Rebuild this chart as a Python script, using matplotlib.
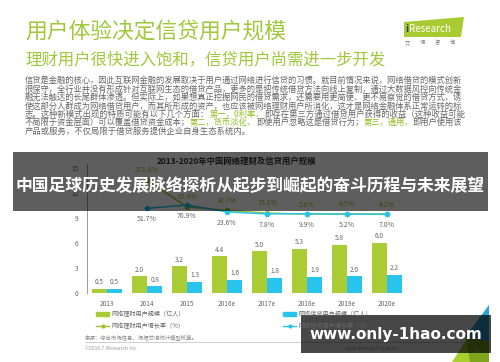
import matplotlib.pyplot as plt
import matplotlib.patches as mpatches
from matplotlib.lines import Line2D
import numpy as np

plt.rcParams['font.family'] = ['Noto Sans CJK SC', 'DejaVu Sans']

# chart data
years = ['2013', '2014', '2015', '2016e', '2017e', '2018e', '2019e', '2020e']
licai_users = [0.5, 2.0, 3.2, 4.4, 5.0, 5.3, 5.8, 6.0]
xindai_users = [0.5, 0.8, 1.3, 1.6, 1.8, 1.9, 2.0, 2.2]
licai_growth = [np.nan, 271.8, 62.4, 34.7, 15.1, 5.6, 8.5, 4.2]
xindai_growth = [np.nan, 51.7, 76.9, 23.6, 7.8, 9.9, 5.2, 7.0]
yticks = [0, 3, 6, 9, 12, 15]
legend_labels = ['网络理财用户规模（亿人）', '网络理财用户增长率（%）',
                 '网络信贷用户规模（亿人）', '网络信贷用户增长率（%）']

title = '用户体验决定信贷用户规模'
subtitle = '理财用户很快进入饱和，信贷用户尚需进一步开发'
chart_title = '2013-2020年中国网络理财及信贷用户规模'
banner = '中国足球历史发展脉络探析从起步到崛起的奋斗历程与未来展望'
watermark = 'www.only-1hao.com'

# paragraph lines, (text, highlighted)
para = [
    [('信贷是金融的核心，因此互联网金融的发展取决于用户通过网络进行信贷的习惯。就目前情况来说，网络借贷的模式创新', 0)],
    [('很保守，全行业并没有形成针对互联网生态的借贷产品，更多的是把传统借贷方法向线上复制，通过大数据风控向传统金', 0)],
    [('融无法触达的长尾群体渗透。但实际上，如果想真正挖掘网民的借贷需求，还需要用更简便、更不易察觉的借贷方式，诱', 0)],
    [('使这部分人群成为网络借贷用户，而其所形成的资产，也应该被网络理财用户所消化，这才是网络金融体系正常运转的标', 0)],
    [('志。这种新模式出现的特质可能有以下几个方面：', 0), ('第一，0利率，', 1),
     ('即存在第三方通过借贷用户获得的收益（这种收益可能', 0)],
    [('不局限于资金层面）可以覆盖借贷资金成本；', 0), ('第二，货币淡化，', 1),
     ('即使用户忽略这是借贷行为；', 0), ('第三，通用，', 1), ('即用户使用该', 0)],
    [('产品或服务，不仅局限于借贷服务提供企业自身生态系统内。', 0)],
]

green = '#aacd36'
green_line = '#9fc02e'
blue = '#28c4ee'
title_green = '#9fc83a'
gray = '#666666'

W, H = 500, 362
fig = plt.figure(figsize=(W / 100, H / 100), dpi=100)
renderer = fig.canvas.get_renderer()

# background layer in pixel coordinates
bg = fig.add_axes([0, 0, 1, 1], zorder=0)
bg.set_xlim(0, W)
bg.set_ylim(H, 0)
bg.axis('off')

bg.text(25, 33, title, fontsize=15.7, color=title_green, va='center')
bg.text(25, 60, subtitle, fontsize=11.8, color=title_green, va='center')

# logo
bg.add_patch(mpatches.Polygon([(404, 22), (464, 17), (461, 37), (404, 37)],
                              closed=True, color='#a9cb32', lw=0))
bg.text(405, 29, 'i', fontsize=7.4, color='#1d3f7a', va='center', fontweight='bold')
bg.text(409, 29, 'Research', fontsize=7.1, color='white', va='center')
for i, ch in enumerate('艾瑞咨询'):
    bg.text(407 + i * 15, 43, ch, fontsize=3.8, color='#777777', va='center', ha='center')

# paragraph, justified to the text block width
base_fs = 6.0
left, right = 25, 466
for i, segs in enumerate(para):
    y = 80.7 + i * 8.4
    full = ''.join(t for t, _ in segs)
    probe = bg.text(0, 0, full, fontsize=base_fs)
    wfull = probe.get_window_extent(renderer).width
    probe.remove()
    fs = base_fs * (right - left) / wfull if i < len(para) - 1 else base_fs
    xpos = left
    for txt, hl in segs:
        col = '#8fbf22' if hl else gray
        t = bg.text(xpos, y, txt, fontsize=fs, color=col, va='center')
        xpos += t.get_window_extent(renderer).width

bg.text(236, 161, chart_title, fontsize=6, fontweight='bold', color='#333333',
        ha='center', va='center')

# footer
bg.text(85, 337, '来源：综合市场信息，根据艾瑞统计模型核算。', fontsize=3.9,
        color='#888888', va='center')
bg.plot([85, 470], [342, 342], color='#bbbbbb', lw=0.5)
bg.text(85, 348, '©2016.7 iResearch Inc.', fontsize=3.6, color='#999999', va='center')
bg.text(345, 348, 'www.iresearch.com.cn', fontsize=3.6, color='#999999', va='center')
bg.add_patch(mpatches.Polygon([(489, 305), (489, 362), (452, 362)], closed=True,
                              color='#a9cf2e', lw=0))
bg.add_patch(mpatches.Polygon([(489, 305), (489, 342), (466, 336)], closed=True,
                              color='#2aa3d8', lw=0))
bg.add_patch(mpatches.Polygon([(466, 336), (489, 342), (489, 362), (470, 362)],
                              closed=True, color='#7fa51c', lw=0))
bg.text(476, 351, '11', fontsize=5, color='#cccccc', ha='center', va='center')

# chart
ax = fig.add_axes([87 / W, (H - 293) / H, 320 / W, 129 / H], zorder=1)
ax.patch.set_alpha(0)
x = np.arange(len(years))
b1 = ax.bar(x - 0.19, licai_users, 0.375, color=green)
b2 = ax.bar(x + 0.19, xindai_users, 0.375, color=blue)
ax.bar_label(b1, fmt='%.1f', padding=2, fontsize=4.7, color=gray)
ax.bar_label(b2, fmt='%.1f', padding=2, fontsize=4.7, color=gray)
ax.set_xlim(-0.5, 7.5)
ax.set_ylim(0, 15.5)
ax.set_yticks(yticks)
ax.set_xticks(x)
ax.set_xticklabels(years)
ax.tick_params(axis='x', length=0, labelsize=4.7, colors=gray, pad=5)
ax.tick_params(axis='y', length=0, labelsize=4.7, colors=gray, pad=6)
for s in ['top', 'right', 'bottom']:
    ax.spines[s].set_visible(False)
ax.spines['left'].set_color('#8a8a8a')
ax.spines['left'].set_linewidth(0.6)

ax2 = ax.twinx()
ax2.set_ylim(-605, 395)
ax2.axis('off')
ax2.plot(x, licai_growth, color=green_line, marker='o', ms=3, lw=1.1)
ax2.plot(x, xindai_growth, color=blue, marker='o', ms=3, lw=1.1)
for xi, v in zip(x, licai_growth):
    if not np.isnan(v):
        ax2.annotate(f'{v:.1f}%', (xi, v), xytext=(0, 7), textcoords='offset points',
                     ha='center', va='center', fontsize=5, color=green_line)
for xi, v in zip(x, xindai_growth):
    if not np.isnan(v):
        ax2.annotate(f'{v:.1f}%', (xi, v), xytext=(0, -8), textcoords='offset points',
                     ha='center', va='center', fontsize=5, color=gray)

# legends
h_left = [mpatches.Patch(color=green),
          Line2D([], [], color=green_line, marker='o', ms=2, lw=1)]
h_right = [mpatches.Patch(color=blue),
           Line2D([], [], color=blue, marker='o', ms=2, lw=1)]
common = dict(frameon=False, fontsize=4.4, loc='upper left', borderpad=0,
              borderaxespad=0, handlelength=2.2, handletextpad=0.35,
              labelspacing=0.65, labelcolor=gray)
leg1 = fig.legend(h_left, legend_labels[:2], bbox_to_anchor=(96 / W, 1 - 310 / H), **common)
leg2 = fig.legend(h_right, legend_labels[2:], bbox_to_anchor=(283 / W, 1 - 310 / H), **common)

# overlay layer
top = fig.add_axes([0, 0, 1, 1], zorder=5)
top.set_xlim(0, W)
top.set_ylim(H, 0)
top.axis('off')
top.add_patch(mpatches.Rectangle((12.7, 152), 475.5, 59, color='black', alpha=0.63, lw=0))
top.text(250, 186, banner, fontsize=12.1, fontweight='bold', color='white',
         ha='center', va='center')
top.add_patch(mpatches.Rectangle((301, 315), 190, 38, color='black', alpha=0.72, lw=0))
top.text(396, 334, watermark, fontsize=11, fontweight='bold', color='white',
         ha='center', va='center', family='DejaVu Sans')

fig.savefig('out.png', dpi=100)
